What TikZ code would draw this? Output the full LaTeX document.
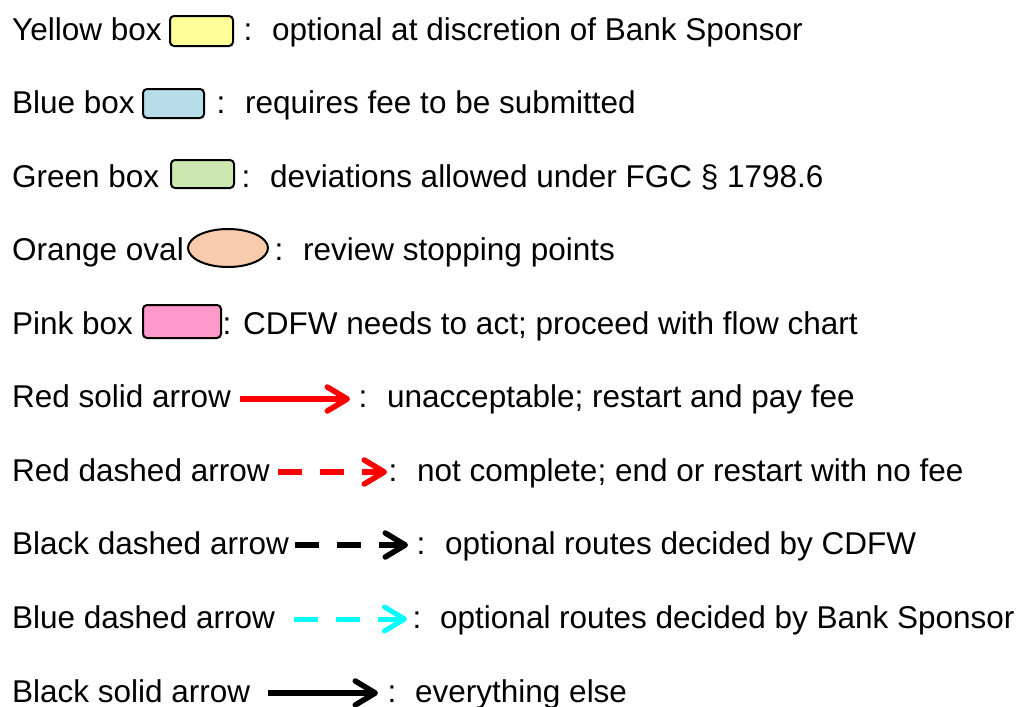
\documentclass[tikz,border=0pt]{standalone}
\usepackage{fontspec}
\setmainfont{Liberation Sans}
\usetikzlibrary{arrows.meta}
\definecolor{yel}{RGB}{255,255,153}
\definecolor{blu}{RGB}{183,222,232}
\definecolor{grn}{RGB}{204,232,176}
\definecolor{org}{RGB}{248,203,173}
\definecolor{pnk}{RGB}{255,153,204}
\definecolor{cyn}{RGB}{0,255,255}
\definecolor{rd}{RGB}{255,0,0}
\tikzset{
  lbl/.style={anchor=base west,inner sep=0pt,font=\fontsize{31.5}{36}\selectfont},
  colon/.style={anchor=base,inner sep=0pt,font=\fontsize{31.5}{36}\selectfont},
  swatch/.style={draw=black,line width=2pt,rounded corners=4pt},
  legarrow/.style={line width=5.5pt,-{Straight Barb[length=20pt,width=24pt,round]}},
  dsh/.style={dash pattern=on 24pt off 18pt}
}
\begin{document}
\begin{tikzpicture}[x=1pt,y=-1pt]
\useasboundingbox (0,0) rectangle (1026,707);
% line 1
\node[lbl] (t1) at (12,40) {Yellow box};
\draw[swatch,fill=yel] (170,16) rectangle (233,46);
\node[colon] (c1) at (248,40) {:};
\node[lbl] (d1) at (272,40) {optional at discretion of Bank Sponsor};
% line 2
\node[lbl] (t2) at (12,113.6) {Blue box};
\draw[swatch,fill=blu] (143,89) rectangle (204,118);
\node[colon] (c2) at (221,113.6) {:};
\node[lbl] (d2) at (245,113.6) {requires fee to be submitted};
% line 3
\node[lbl] (t3) at (12,187.1) {Green box};
\draw[swatch,fill=grn] (171,160) rectangle (234,188);
\node[colon] (c3) at (246,187.1) {:};
\node[lbl] (d3) at (270,187.1) {deviations allowed under FGC § 1798.6};
% line 4
\node[lbl] (t4) at (12,260.7) {Orange oval};
\draw[draw=black,line width=2pt,fill=org] (228,248) ellipse [x radius=40,y radius=19];
\node[colon] (c4) at (279,260.7) {:};
\node[lbl] (d4) at (303,260.7) {review stopping points};
% line 5
\node[lbl] (t5) at (12,334.2) {Pink box};
\draw[swatch,fill=pnk] (143,305) rectangle (221,338);
\node[colon] (c5) at (227,334.2) {:};
\node[lbl] (d5) at (243,334.2) {CDFW needs to act; proceed with flow chart};
% line 6
\node[lbl] (t6) at (12,407.8) {Red solid arrow};
\coordinate (a6s) at (240,399); \coordinate (a6e) at (350,399);
\draw[legarrow,rd] (a6s) -- (a6e);
\node[colon] (c6) at (363,407.8) {:};
\node[lbl] (d6) at (387,407.8) {unacceptable; restart and pay fee};
% line 7
\node[lbl] (t7) at (12,481.4) {Red dashed arrow};
\coordinate (a7s) at (278,472); \coordinate (a7e) at (387,472);
\draw[legarrow,dsh,rd] (a7s) -- (a7e);
\node[colon] (c7) at (393,481.4) {:};
\node[lbl] (d7) at (417,481.4) {not complete; end or restart with no fee};
% line 8
\node[lbl] (t8) at (12,554.9) {Black dashed arrow};
\coordinate (a8s) at (295,545); \coordinate (a8e) at (408,545);
\draw[legarrow,dsh,black] (a8s) -- (a8e);
\node[colon] (c8) at (421,554.9) {:};
\node[lbl] (d8) at (445,554.9) {optional routes decided by CDFW};
% line 9
\node[lbl] (t9) at (12,628.5) {Blue dashed arrow};
\coordinate (a9s) at (294,619); \coordinate (a9e) at (407,619);
\draw[legarrow,dsh,cyn,line width=5pt] (a9s) -- (a9e);
\node[colon] (c9) at (417,628.5) {:};
\node[lbl] (d9) at (440,628.5) {optional routes decided by Bank Sponsor};
% line 10
\node[lbl] (t10) at (12,702) {Black solid arrow};
\coordinate (a10s) at (268,693); \coordinate (a10e) at (378,693);
\draw[legarrow,black] (a10s) -- (a10e);
\node[colon] (c10) at (392,702) {:};
\node[lbl] (d10) at (415,702) {everything else};
\end{tikzpicture}
\end{document}
